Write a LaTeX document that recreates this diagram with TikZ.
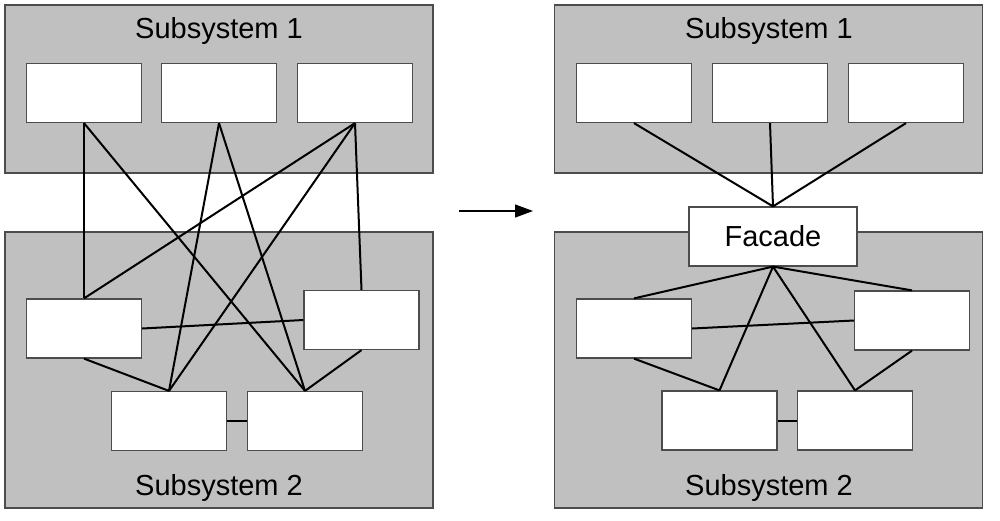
\documentclass[tikz,border=0pt]{standalone}
\usepackage{fontspec}
\setmainfont{Liberation Sans}
\usetikzlibrary{positioning,arrows.meta}
\definecolor{panelgray}{HTML}{C0C0C0}

\begin{document}
\begin{tikzpicture}[x=1pt, y=-1pt,
      panel/.style = {draw=black!70, line width=1.2pt, fill=panelgray,
        minimum width=428pt, inner sep=0pt},
      part/.style = {draw=black!70, line width=1.2pt, fill=white,
        minimum width=115pt, minimum height=59pt, inner sep=0pt},
      title/.style = {font=\fontsize{29}{34}\selectfont},
      link/.style = {line width=2pt}]
  \useasboundingbox (0,0) rectangle (1000,520);
  % before
  \node[panel, minimum height=168pt] (p1) at (219,89) {};
  \node[panel, minimum height=276pt] (p2) at (219,370) {};
  \node[title] (t1) at (219,31) {Subsystem 1};
  \node[title] (t2) at (219,488) {Subsystem 2};
  \foreach \i/\x in {1/84,2/219,3/355}
    \node[part] (a\i) at (\x,93) {};
  \node[part] (b1) at (84,328.5) {};
  \node[part] (b2) at (361.5,320) {};
  \node[part] (b3) at (169,421) {};
  \node[part] (b4) at (305,421) {};
  \draw[link] (a1.south) -- (b1.north);
  \draw[link] (a1.south) -- (b4.north);
  \draw[link] (a2.south) -- (b3.north);
  \draw[link] (a2.south) -- (b4.north);
  \draw[link] (a3.south) -- (b1.north);
  \draw[link] (a3.south) -- (b3.north);
  \draw[link] (a3.south) -- (b2.north);
  \draw[link] (b1.east) -- (b2.west);
  \draw[link] (b1.south) -- (b3.north);
  \draw[link] (b2.south) -- (b4.north);
  \draw[link] (b3.east) -- (b4.west);
  % arrow
  \coordinate (g0) at (459,211);
  \coordinate (g1) at (533,211);
  \draw[line width=1.2pt, -{Triangle[length=18pt,width=13pt]}] (g0) -- (g1);
  % after
  \node[panel, minimum height=168pt] (q1) at (768.5,89) {};
  \node[panel, minimum height=276pt] (q2) at (768.5,370) {};
  \node[title] (u1) at (769,31) {Subsystem 1};
  \node[title] (u2) at (769,488) {Subsystem 2};
  \foreach \i/\x in {1/634,2/770,3/906}
    \node[part] (c\i) at (\x,93) {};
  \node[part, minimum width=168pt, title] (f) at (773,236.5) {Facade};
  \node[part] (d1) at (634,328.5) {};
  \node[part] (d2) at (912,320.5) {};
  \node[part] (d3) at (719.5,420.5) {};
  \node[part] (d4) at (855,420.5) {};
  \foreach \i in {1,2,3}
    \draw[link] (c\i.south) -- (f.north);
  \foreach \i in {1,2,3,4}
    \draw[link] (f.south) -- (d\i.north);
  \draw[link] (d1.east) -- (d2.west);
  \draw[link] (d1.south) -- (d3.north);
  \draw[link] (d2.south) -- (d4.north);
  \draw[link] (d3.east) -- (d4.west);
\end{tikzpicture}
\end{document}
